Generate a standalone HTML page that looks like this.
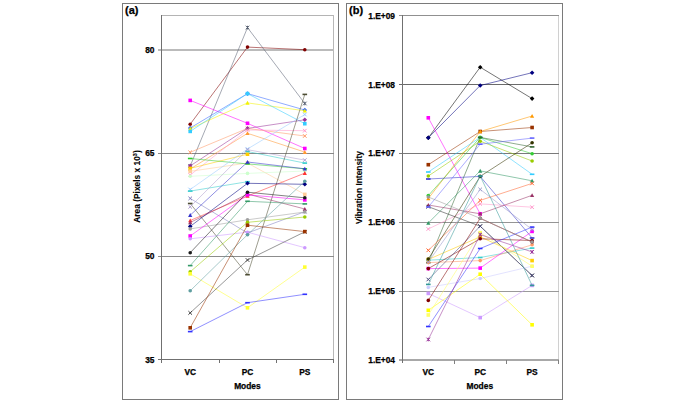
<!DOCTYPE html>
<html><head><meta charset="utf-8"><style>
html,body{margin:0;padding:0;background:#fff;width:685px;height:403px;overflow:hidden;position:relative;font-family:"Liberation Sans", sans-serif;}
</style></head><body>
<svg width="685" height="403" viewBox="0 0 685 403" style="position:absolute;left:0;top:0" shape-rendering="auto"><rect x="122" y="3" width="217" height="1" fill="#7a7a7a"/><rect x="122" y="399" width="217" height="1" fill="#7a7a7a"/><rect x="122" y="3" width="1" height="397" fill="#7a7a7a"/><rect x="338" y="3" width="1" height="397" fill="#7a7a7a"/><rect x="161" y="15" width="173" height="1" fill="#b4b4b4"/><rect x="333" y="15" width="1" height="345" fill="#b8b8b8"/><rect x="158" y="49" width="176" height="1" fill="#bbbbbb"/><rect x="158" y="50" width="176" height="1" fill="#bbbbbb"/><rect x="158" y="153" width="176" height="1" fill="#888888"/><rect x="158" y="256" width="176" height="1" fill="#8c8c8c"/><rect x="158" y="359" width="176" height="1" fill="#707070"/><rect x="161" y="15" width="1" height="348" fill="#707070"/><rect x="219" y="359" width="1" height="4" fill="#707070"/><rect x="276" y="359" width="1" height="4" fill="#707070"/><rect x="333" y="359" width="1" height="4" fill="#707070"/><rect x="346" y="3" width="217" height="1" fill="#7a7a7a"/><rect x="346" y="399" width="217" height="1" fill="#7a7a7a"/><rect x="346" y="3" width="1" height="397" fill="#7a7a7a"/><rect x="562" y="3" width="1" height="397" fill="#7a7a7a"/><rect x="558" y="15" width="1" height="346" fill="#d0d0d0"/><rect x="399" y="15" width="160" height="1" fill="#909090"/><rect x="399" y="84" width="160" height="1" fill="#6a6a6a"/><rect x="399" y="153" width="160" height="1" fill="#7a7a7a"/><rect x="399" y="222" width="160" height="1" fill="#959595"/><rect x="399" y="291" width="160" height="1" fill="#9a9a9a"/><rect x="399" y="359" width="160" height="1" fill="#a8a8a8"/><rect x="399" y="360" width="160" height="1" fill="#a8a8a8"/><rect x="402" y="15" width="1" height="348" fill="#707070"/><rect x="454" y="360" width="1" height="4" fill="#808080"/><rect x="506" y="360" width="1" height="4" fill="#808080"/><rect x="558" y="360" width="1" height="4" fill="#808080"/><polyline points="190.2,124.2 247.5,47.1 304.8,49.7" fill="none" stroke="#800000" stroke-width="0.55" opacity="1.0"/><circle cx="190.2" cy="124.2" r="1.8" fill="#800000"/><circle cx="247.5" cy="47.1" r="1.8" fill="#800000"/><circle cx="304.8" cy="49.7" r="1.8" fill="#800000"/><polyline points="190.2,166.0 247.5,27.6 304.8,103.5" fill="none" stroke="#596273" stroke-width="0.55" opacity="1.0"/><path d="M188.4 164.2L192.0 167.8M192.0 164.2L188.4 167.8M190.2 164.2L190.2 167.8" stroke="#596273" stroke-width="1" fill="none"/><path d="M245.7 25.8L249.3 29.4M249.3 25.8L245.7 29.4M247.5 25.8L247.5 29.4" stroke="#596273" stroke-width="1" fill="none"/><path d="M303.0 101.7L306.6 105.3M306.6 101.7L303.0 105.3M304.8 101.7L304.8 105.3" stroke="#596273" stroke-width="1" fill="none"/><polyline points="190.2,100.4 247.5,123.3 304.8,148.5" fill="none" stroke="#ff00ff" stroke-width="0.55" opacity="1.0"/><rect x="188.4" y="98.6" width="3.6" height="3.6" fill="#ff00ff"/><rect x="245.7" y="121.5" width="3.6" height="3.6" fill="#ff00ff"/><rect x="303.0" y="146.7" width="3.6" height="3.6" fill="#ff00ff"/><polyline points="190.2,128.0 247.5,93.6 304.8,110.0" fill="none" stroke="#3366ff" stroke-width="0.55" opacity="1.0"/><path d="M190.2 125.7L192.5 128.0L190.2 130.3L187.9 128.0Z" fill="#3366ff"/><path d="M247.5 91.3L249.8 93.6L247.5 95.9L245.2 93.6Z" fill="#3366ff"/><path d="M304.8 107.7L307.1 110.0L304.8 112.3L302.5 110.0Z" fill="#3366ff"/><polyline points="190.2,128.7 247.5,102.9 304.8,110.8" fill="none" stroke="#f2f200" stroke-width="0.55" opacity="1.0"/><path d="M190.2 126.6L192.3 130.5L188.1 130.5Z" fill="#f2f200"/><path d="M247.5 100.8L249.6 104.7L245.4 104.7Z" fill="#f2f200"/><path d="M304.8 108.7L306.9 112.6L302.7 112.6Z" fill="#f2f200"/><polyline points="190.2,131.4 247.5,93.6 304.8,123.7" fill="none" stroke="#33ccff" stroke-width="0.55" opacity="1.0"/><rect x="188.4" y="129.6" width="3.6" height="3.6" fill="#33ccff"/><rect x="245.7" y="91.8" width="3.6" height="3.6" fill="#33ccff"/><rect x="303.0" y="121.9" width="3.6" height="3.6" fill="#33ccff"/><polyline points="190.2,152.3 247.5,128.4 304.8,136.0" fill="none" stroke="#ff9966" stroke-width="0.55" opacity="1.0"/><path d="M188.4 150.5L192.0 154.1M192.0 150.5L188.4 154.1" stroke="#ff9966" stroke-width="1" fill="none"/><path d="M245.7 126.6L249.3 130.2M249.3 126.6L245.7 130.2" stroke="#ff9966" stroke-width="1" fill="none"/><path d="M303.0 134.2L306.6 137.8M306.6 134.2L303.0 137.8" stroke="#ff9966" stroke-width="1" fill="none"/><polyline points="190.2,165.9 247.5,128.4 304.8,119.8" fill="none" stroke="#993399" stroke-width="0.55" opacity="1.0"/><path d="M190.2 163.6L192.5 165.9L190.2 168.2L187.9 165.9Z" fill="#993399"/><path d="M247.5 126.1L249.8 128.4L247.5 130.7L245.2 128.4Z" fill="#993399"/><path d="M304.8 117.5L307.1 119.8L304.8 122.1L302.5 119.8Z" fill="#993399"/><polyline points="190.2,169.0 247.5,133.3 304.8,152.1" fill="none" stroke="#ff9933" stroke-width="0.55" opacity="1.0"/><path d="M190.2 166.9L192.3 170.8L188.1 170.8Z" fill="#ff9933"/><path d="M247.5 131.2L249.6 135.1L245.4 135.1Z" fill="#ff9933"/><path d="M304.8 150.0L306.9 153.9L302.7 153.9Z" fill="#ff9933"/><polyline points="190.2,175.0 247.5,130.0 304.8,130.7" fill="none" stroke="#ff99cc" stroke-width="0.55" opacity="1.0"/><path d="M188.4 173.2L192.0 176.8M192.0 173.2L188.4 176.8" stroke="#ff99cc" stroke-width="1" fill="none"/><path d="M245.7 128.2L249.3 131.8M249.3 128.2L245.7 131.8" stroke="#ff99cc" stroke-width="1" fill="none"/><path d="M303.0 128.9L306.6 132.5M306.6 128.9L303.0 132.5" stroke="#ff99cc" stroke-width="1" fill="none"/><polyline points="190.2,168.4 247.5,154.2" fill="none" stroke="#ffcc00" stroke-width="0.55" opacity="1.0"/><rect x="188.4" y="166.6" width="3.6" height="3.6" fill="#ffcc00"/><rect x="245.7" y="152.4" width="3.6" height="3.6" fill="#ffcc00"/><polyline points="190.2,171.3 247.5,163.0 304.8,194.4" fill="none" stroke="#ffcc99" stroke-width="0.55" opacity="1.0"/><rect x="188.4" y="169.5" width="3.6" height="3.6" fill="#ffcc99"/><rect x="245.7" y="161.2" width="3.6" height="3.6" fill="#ffcc99"/><rect x="303.0" y="192.6" width="3.6" height="3.6" fill="#ffcc99"/><polyline points="190.2,158.5 247.5,163.9 304.8,168.8" fill="none" stroke="#33cc33" stroke-width="0.55" opacity="1.0"/><rect x="187.9" y="157.7" width="4.6" height="1.6" fill="#33cc33"/><rect x="245.2" y="163.1" width="4.6" height="1.6" fill="#33cc33"/><rect x="302.5" y="168.0" width="4.6" height="1.6" fill="#33cc33"/><polyline points="190.2,176.3 247.5,173.4 304.8,171.0" fill="none" stroke="#ccffcc" stroke-width="0.55" opacity="1.0"/><circle cx="190.2" cy="176.3" r="1.8" fill="#ccffcc"/><circle cx="247.5" cy="173.4" r="1.8" fill="#ccffcc"/><circle cx="304.8" cy="171.0" r="1.8" fill="#ccffcc"/><polyline points="190.2,189.5 247.5,149.0 304.8,114.5" fill="none" stroke="#99ccff" stroke-width="0.55" opacity="1.0"/><path d="M188.4 187.7L192.0 191.3M192.0 187.7L188.4 191.3" stroke="#99ccff" stroke-width="1" fill="none"/><path d="M245.7 147.2L249.3 150.8M249.3 147.2L245.7 150.8" stroke="#99ccff" stroke-width="1" fill="none"/><path d="M303.0 112.7L306.6 116.3M306.6 112.7L303.0 116.3" stroke="#99ccff" stroke-width="1" fill="none"/><polyline points="190.2,191.1 247.5,181.7" fill="none" stroke="#33cccc" stroke-width="0.55" opacity="1.0"/><rect x="187.9" y="190.3" width="4.6" height="1.6" fill="#33cccc"/><rect x="245.2" y="180.9" width="4.6" height="1.6" fill="#33cccc"/><polyline points="247.5,151.5 304.8,163.1" fill="none" stroke="#33cccc" stroke-width="0.55" opacity="1.0"/><rect x="245.2" y="150.7" width="4.6" height="1.6" fill="#33cccc"/><rect x="302.5" y="162.3" width="4.6" height="1.6" fill="#33cccc"/><polyline points="190.2,198.4 247.5,233.0 304.8,211.7" fill="none" stroke="#8080c0" stroke-width="0.55" opacity="1.0"/><path d="M188.4 196.6L192.0 200.2M192.0 196.6L188.4 200.2" stroke="#8080c0" stroke-width="1" fill="none"/><path d="M245.7 231.2L249.3 234.8M249.3 231.2L245.7 234.8" stroke="#8080c0" stroke-width="1" fill="none"/><path d="M303.0 209.9L306.6 213.5M306.6 209.9L303.0 213.5" stroke="#8080c0" stroke-width="1" fill="none"/><polyline points="190.2,203.5 247.5,274.7 304.8,94.4" fill="none" stroke="#4d4d33" stroke-width="0.55" opacity="1.0"/><rect x="187.9" y="202.7" width="4.6" height="1.6" fill="#4d4d33"/><rect x="245.2" y="273.9" width="4.6" height="1.6" fill="#4d4d33"/><rect x="302.5" y="93.6" width="4.6" height="1.6" fill="#4d4d33"/><polyline points="190.2,206.8 247.5,149.7 304.8,160.1" fill="none" stroke="#b0a0d0" stroke-width="0.55" opacity="1.0"/><path d="M188.4 205.0L192.0 208.6M192.0 205.0L188.4 208.6" stroke="#b0a0d0" stroke-width="1" fill="none"/><path d="M245.7 147.9L249.3 151.5M249.3 147.9L245.7 151.5" stroke="#b0a0d0" stroke-width="1" fill="none"/><path d="M303.0 158.3L306.6 161.9M306.6 158.3L303.0 161.9" stroke="#b0a0d0" stroke-width="1" fill="none"/><polyline points="190.2,215.2 247.5,162.0 304.8,168.8" fill="none" stroke="#3333cc" stroke-width="0.55" opacity="1.0"/><path d="M190.2 213.1L192.3 217.0L188.1 217.0Z" fill="#3333cc"/><path d="M247.5 159.9L249.6 163.8L245.4 163.8Z" fill="#3333cc"/><path d="M304.8 166.7L306.9 170.6L302.7 170.6Z" fill="#3333cc"/><polyline points="190.2,220.5 247.5,196.0 304.8,173.1" fill="none" stroke="#ff3333" stroke-width="0.55" opacity="1.0"/><path d="M190.2 218.4L192.3 222.3L188.1 222.3Z" fill="#ff3333"/><path d="M247.5 193.9L249.6 197.8L245.4 197.8Z" fill="#ff3333"/><path d="M304.8 171.0L306.9 174.9L302.7 174.9Z" fill="#ff3333"/><polyline points="190.2,222.5 247.5,194.0 304.8,209.0" fill="none" stroke="#993366" stroke-width="0.55" opacity="1.0"/><path d="M190.2 220.4L192.3 224.3L188.1 224.3Z" fill="#993366"/><path d="M247.5 191.9L249.6 195.8L245.4 195.8Z" fill="#993366"/><path d="M304.8 206.9L306.9 210.8L302.7 210.8Z" fill="#993366"/><polyline points="190.2,226.4 247.5,183.3 304.8,184.3" fill="none" stroke="#000080" stroke-width="0.55" opacity="1.0"/><path d="M190.2 224.1L192.5 226.4L190.2 228.7L187.9 226.4Z" fill="#000080"/><path d="M247.5 181.0L249.8 183.3L247.5 185.6L245.2 183.3Z" fill="#000080"/><path d="M304.8 182.0L307.1 184.3L304.8 186.6L302.5 184.3Z" fill="#000080"/><polyline points="190.2,228.9 247.5,219.8 304.8,212.0" fill="none" stroke="#a0a0a0" stroke-width="0.55" opacity="1.0"/><circle cx="190.2" cy="228.9" r="1.8" fill="#a0a0a0"/><circle cx="247.5" cy="219.8" r="1.8" fill="#a0a0a0"/><circle cx="304.8" cy="212.0" r="1.8" fill="#a0a0a0"/><polyline points="190.2,236.0 247.5,194.8 304.8,199.9" fill="none" stroke="#ff00ff" stroke-width="0.55" opacity="1.0"/><rect x="188.4" y="234.2" width="3.6" height="3.6" fill="#ff00ff"/><rect x="245.7" y="193.0" width="3.6" height="3.6" fill="#ff00ff"/><rect x="303.0" y="198.1" width="3.6" height="3.6" fill="#ff00ff"/><polyline points="190.2,238.8 247.5,232.2 304.8,247.7" fill="none" stroke="#cc99ff" stroke-width="0.55" opacity="1.0"/><circle cx="190.2" cy="238.8" r="1.8" fill="#cc99ff"/><circle cx="247.5" cy="232.2" r="1.8" fill="#cc99ff"/><circle cx="304.8" cy="247.7" r="1.8" fill="#cc99ff"/><polyline points="190.2,252.7 247.5,192.2 304.8,197.8" fill="none" stroke="#1a1a1a" stroke-width="0.55" opacity="1.0"/><circle cx="190.2" cy="252.7" r="1.8" fill="#1a1a1a"/><circle cx="247.5" cy="192.2" r="1.8" fill="#1a1a1a"/><circle cx="304.8" cy="197.8" r="1.8" fill="#1a1a1a"/><polyline points="190.2,265.6 247.5,201.3 304.8,203.9" fill="none" stroke="#339966" stroke-width="0.55" opacity="1.0"/><rect x="187.9" y="264.8" width="4.6" height="1.6" fill="#339966"/><rect x="245.2" y="200.5" width="4.6" height="1.6" fill="#339966"/><rect x="302.5" y="203.1" width="4.6" height="1.6" fill="#339966"/><polyline points="190.2,271.8 247.5,222.3 304.8,217.0" fill="none" stroke="#99cc00" stroke-width="0.55" opacity="1.0"/><circle cx="190.2" cy="271.8" r="1.8" fill="#99cc00"/><circle cx="247.5" cy="222.3" r="1.8" fill="#99cc00"/><circle cx="304.8" cy="217.0" r="1.8" fill="#99cc00"/><polyline points="190.2,273.8 247.5,307.8 304.8,267.1" fill="none" stroke="#ffff33" stroke-width="0.55" opacity="1.0"/><rect x="188.4" y="272.0" width="3.6" height="3.6" fill="#ffff33"/><rect x="245.7" y="306.0" width="3.6" height="3.6" fill="#ffff33"/><rect x="303.0" y="265.3" width="3.6" height="3.6" fill="#ffff33"/><polyline points="190.2,290.8 247.5,234.7 304.8,181.3" fill="none" stroke="#5f9ea0" stroke-width="0.55" opacity="1.0"/><circle cx="190.2" cy="290.8" r="1.8" fill="#5f9ea0"/><circle cx="247.5" cy="234.7" r="1.8" fill="#5f9ea0"/><circle cx="304.8" cy="181.3" r="1.8" fill="#5f9ea0"/><polyline points="190.2,312.9 247.5,260.0 304.8,231.8" fill="none" stroke="#404040" stroke-width="0.55" opacity="1.0"/><path d="M188.4 311.1L192.0 314.7M192.0 311.1L188.4 314.7" stroke="#404040" stroke-width="1" fill="none"/><path d="M245.7 258.2L249.3 261.8M249.3 258.2L245.7 261.8" stroke="#404040" stroke-width="1" fill="none"/><path d="M303.0 230.0L306.6 233.6M306.6 230.0L303.0 233.6" stroke="#404040" stroke-width="1" fill="none"/><polyline points="190.2,327.8 247.5,225.2 304.8,231.6" fill="none" stroke="#993300" stroke-width="0.55" opacity="1.0"/><rect x="188.4" y="326.0" width="3.6" height="3.6" fill="#993300"/><rect x="245.7" y="223.4" width="3.6" height="3.6" fill="#993300"/><rect x="303.0" y="229.8" width="3.6" height="3.6" fill="#993300"/><polyline points="190.2,331.6 247.5,302.7 304.8,294.3" fill="none" stroke="#3333ff" stroke-width="0.55" opacity="1.0"/><rect x="187.9" y="330.8" width="4.6" height="1.6" fill="#3333ff"/><rect x="245.2" y="301.9" width="4.6" height="1.6" fill="#3333ff"/><rect x="302.5" y="293.5" width="4.6" height="1.6" fill="#3333ff"/><polyline points="428.3,137.8 480.2,67.2 532.1,98.6" fill="none" stroke="#000000" stroke-width="0.55" opacity="1.0"/><path d="M428.3 135.5L430.6 137.8L428.3 140.1L426.0 137.8Z" fill="#000000"/><path d="M480.2 64.9L482.5 67.2L480.2 69.5L477.9 67.2Z" fill="#000000"/><path d="M532.1 96.3L534.4 98.6L532.1 100.9L529.8 98.6Z" fill="#000000"/><polyline points="428.3,137.8 480.2,85.5 532.1,72.7" fill="none" stroke="#000080" stroke-width="0.55" opacity="1.0"/><path d="M428.3 135.5L430.6 137.8L428.3 140.1L426.0 137.8Z" fill="#000080"/><path d="M480.2 83.2L482.5 85.5L480.2 87.8L477.9 85.5Z" fill="#000080"/><path d="M532.1 70.4L534.4 72.7L532.1 75.0L529.8 72.7Z" fill="#000080"/><polyline points="428.3,117.8 480.2,213.8" fill="none" stroke="#ff00ff" stroke-width="0.55" opacity="1.0"/><rect x="426.5" y="116.0" width="3.6" height="3.6" fill="#ff00ff"/><rect x="478.4" y="212.0" width="3.6" height="3.6" fill="#ff00ff"/><polyline points="428.3,164.7 480.2,131.5 532.1,127.5" fill="none" stroke="#993300" stroke-width="0.55" opacity="1.0"/><rect x="426.5" y="162.9" width="3.6" height="3.6" fill="#993300"/><rect x="478.4" y="129.7" width="3.6" height="3.6" fill="#993300"/><rect x="530.3" y="125.7" width="3.6" height="3.6" fill="#993300"/><polyline points="428.3,198.5 480.2,131.5 532.1,116.0" fill="none" stroke="#ff9900" stroke-width="0.55" opacity="1.0"/><path d="M428.3 196.4L430.4 200.3L426.2 200.3Z" fill="#ff9900"/><path d="M480.2 129.4L482.3 133.3L478.1 133.3Z" fill="#ff9900"/><path d="M532.1 113.9L534.2 117.8L530.0 117.8Z" fill="#ff9900"/><polyline points="428.3,172.0 480.2,137.4 532.1,174.3" fill="none" stroke="#33ccff" stroke-width="0.55" opacity="1.0"/><rect x="426.0" y="171.2" width="4.6" height="1.6" fill="#33ccff"/><rect x="477.9" y="136.6" width="4.6" height="1.6" fill="#33ccff"/><rect x="529.8" y="173.5" width="4.6" height="1.6" fill="#33ccff"/><polyline points="428.3,176.0 480.2,141.2 532.1,161.0" fill="none" stroke="#99cc00" stroke-width="0.55" opacity="1.0"/><circle cx="428.3" cy="176.0" r="1.8" fill="#99cc00"/><circle cx="480.2" cy="141.2" r="1.8" fill="#99cc00"/><circle cx="532.1" cy="161.0" r="1.8" fill="#99cc00"/><polyline points="428.3,195.6 480.2,137.4 532.1,153.7" fill="none" stroke="#33cc33" stroke-width="0.55" opacity="1.0"/><circle cx="428.3" cy="195.6" r="1.8" fill="#33cc33"/><circle cx="480.2" cy="137.4" r="1.8" fill="#33cc33"/><circle cx="532.1" cy="153.7" r="1.8" fill="#33cc33"/><polyline points="428.3,262.6 480.2,137.4 532.1,146.9" fill="none" stroke="#336633" stroke-width="0.55" opacity="1.0"/><rect x="426.0" y="261.8" width="4.6" height="1.6" fill="#336633"/><rect x="477.9" y="136.6" width="4.6" height="1.6" fill="#336633"/><rect x="529.8" y="146.1" width="4.6" height="1.6" fill="#336633"/><polyline points="428.3,179.0 480.2,176.4 532.1,238.0" fill="none" stroke="#3333cc" stroke-width="0.55" opacity="1.0"/><rect x="426.0" y="178.2" width="4.6" height="1.6" fill="#3333cc"/><rect x="477.9" y="175.6" width="4.6" height="1.6" fill="#3333cc"/><rect x="529.8" y="237.2" width="4.6" height="1.6" fill="#3333cc"/><polyline points="428.3,223.0 480.2,170.9 532.1,180.8" fill="none" stroke="#339966" stroke-width="0.55" opacity="1.0"/><path d="M428.3 220.9L430.4 224.8L426.2 224.8Z" fill="#339966"/><path d="M480.2 168.8L482.3 172.7L478.1 172.7Z" fill="#339966"/><path d="M532.1 178.7L534.2 182.6L530.0 182.6Z" fill="#339966"/><polyline points="428.3,229.0 480.2,203.9 532.1,207.2" fill="none" stroke="#ff99cc" stroke-width="0.55" opacity="1.0"/><path d="M426.5 227.2L430.1 230.8M430.1 227.2L426.5 230.8" stroke="#ff99cc" stroke-width="1" fill="none"/><path d="M478.4 202.1L482.0 205.7M482.0 202.1L478.4 205.7" stroke="#ff99cc" stroke-width="1" fill="none"/><path d="M530.3 205.4L533.9 209.0M533.9 205.4L530.3 209.0" stroke="#ff99cc" stroke-width="1" fill="none"/><polyline points="428.3,250.3 480.2,200.4 532.1,183.4" fill="none" stroke="#ff6633" stroke-width="0.55" opacity="1.0"/><path d="M426.5 248.5L430.1 252.1M430.1 248.5L426.5 252.1" stroke="#ff6633" stroke-width="1" fill="none"/><path d="M478.4 198.6L482.0 202.2M482.0 198.6L478.4 202.2" stroke="#ff6633" stroke-width="1" fill="none"/><path d="M530.3 181.6L533.9 185.2M533.9 181.6L530.3 185.2" stroke="#ff6633" stroke-width="1" fill="none"/><polyline points="428.3,205.0 480.2,213.8 532.1,195.3" fill="none" stroke="#993366" stroke-width="0.55" opacity="1.0"/><path d="M428.3 202.9L430.4 206.8L426.2 206.8Z" fill="#993366"/><path d="M480.2 211.7L482.3 215.6L478.1 215.6Z" fill="#993366"/><path d="M532.1 193.2L534.2 197.1L530.0 197.1Z" fill="#993366"/><polyline points="428.3,260.2 480.2,257.5 532.1,248.1" fill="none" stroke="#33cccc" stroke-width="0.55" opacity="1.0"/><rect x="426.0" y="259.4" width="4.6" height="1.6" fill="#33cccc"/><rect x="477.9" y="256.7" width="4.6" height="1.6" fill="#33cccc"/><rect x="529.8" y="247.3" width="4.6" height="1.6" fill="#33cccc"/><polyline points="428.3,259.5 480.2,236.8 532.1,260.6" fill="none" stroke="#ffcc00" stroke-width="0.55" opacity="1.0"/><rect x="426.5" y="257.7" width="3.6" height="3.6" fill="#ffcc00"/><rect x="478.4" y="235.0" width="3.6" height="3.6" fill="#ffcc00"/><rect x="530.3" y="258.8" width="3.6" height="3.6" fill="#ffcc00"/><polyline points="428.3,262.6 480.2,260.6 532.1,244.8" fill="none" stroke="#ff9966" stroke-width="0.55" opacity="1.0"/><circle cx="428.3" cy="262.6" r="1.8" fill="#ff9966"/><circle cx="480.2" cy="260.6" r="1.8" fill="#ff9966"/><circle cx="532.1" cy="244.8" r="1.8" fill="#ff9966"/><polyline points="428.3,268.6 480.2,268.1 532.1,231.4" fill="none" stroke="#ff00ff" stroke-width="0.55" opacity="1.0"/><rect x="426.5" y="266.8" width="3.6" height="3.6" fill="#ff00ff"/><rect x="478.4" y="266.3" width="3.6" height="3.6" fill="#ff00ff"/><rect x="530.3" y="229.6" width="3.6" height="3.6" fill="#ff00ff"/><polyline points="428.3,268.6 480.2,238.8 532.1,240.5" fill="none" stroke="#800000" stroke-width="0.55" opacity="1.0"/><circle cx="428.3" cy="268.6" r="1.8" fill="#800000"/><circle cx="480.2" cy="238.8" r="1.8" fill="#800000"/><circle cx="532.1" cy="240.5" r="1.8" fill="#800000"/><polyline points="428.3,206.7 480.2,226.2 532.1,275.5" fill="none" stroke="#333333" stroke-width="0.55" opacity="1.0"/><path d="M426.5 204.9L430.1 208.5M430.1 204.9L426.5 208.5" stroke="#333333" stroke-width="1" fill="none"/><path d="M478.4 224.4L482.0 228.0M482.0 224.4L478.4 228.0" stroke="#333333" stroke-width="1" fill="none"/><path d="M530.3 273.7L533.9 277.3M533.9 273.7L530.3 277.3" stroke="#333333" stroke-width="1" fill="none"/><polyline points="428.3,259.0 480.2,176.4 532.1,142.8" fill="none" stroke="#333300" stroke-width="0.55" opacity="1.0"/><circle cx="428.3" cy="259.0" r="1.8" fill="#333300"/><circle cx="480.2" cy="176.4" r="1.8" fill="#333300"/><circle cx="532.1" cy="142.8" r="1.8" fill="#333300"/><polyline points="428.3,279.5 480.2,226.2 532.1,275.5" fill="none" stroke="#4d4d80" stroke-width="0.55" opacity="1.0"/><path d="M426.5 277.7L430.1 281.3M430.1 277.7L426.5 281.3" stroke="#4d4d80" stroke-width="1" fill="none"/><path d="M478.4 224.4L482.0 228.0M482.0 224.4L478.4 228.0" stroke="#4d4d80" stroke-width="1" fill="none"/><path d="M530.3 273.7L533.9 277.3M533.9 273.7L530.3 277.3" stroke="#4d4d80" stroke-width="1" fill="none"/><polyline points="428.3,287.4 480.2,278.5 532.1,266.2" fill="none" stroke="#ccccff" stroke-width="0.55" opacity="1.0"/><circle cx="428.3" cy="287.4" r="1.8" fill="#ccccff"/><circle cx="480.2" cy="278.5" r="1.8" fill="#ccccff"/><circle cx="532.1" cy="266.2" r="1.8" fill="#ccccff"/><polyline points="428.3,293.4 480.2,317.6 532.1,285.4" fill="none" stroke="#cc99ff" stroke-width="0.55" opacity="1.0"/><rect x="426.5" y="291.6" width="3.6" height="3.6" fill="#cc99ff"/><rect x="478.4" y="315.8" width="3.6" height="3.6" fill="#cc99ff"/><rect x="530.3" y="283.6" width="3.6" height="3.6" fill="#cc99ff"/><polyline points="428.3,300.4 480.2,218.3 532.1,242.0" fill="none" stroke="#800000" stroke-width="0.55" opacity="1.0"/><circle cx="428.3" cy="300.4" r="1.8" fill="#800000"/><circle cx="480.2" cy="218.3" r="1.8" fill="#800000"/><circle cx="532.1" cy="242.0" r="1.8" fill="#800000"/><polyline points="428.3,310.3 480.2,274.2 532.1,324.8" fill="none" stroke="#ffff00" stroke-width="0.55" opacity="1.0"/><rect x="426.5" y="308.5" width="3.6" height="3.6" fill="#ffff00"/><rect x="478.4" y="272.4" width="3.6" height="3.6" fill="#ffff00"/><rect x="530.3" y="323.0" width="3.6" height="3.6" fill="#ffff00"/><polyline points="428.3,315.0 480.2,232.7 532.1,266.2" fill="none" stroke="#ffff66" stroke-width="0.55" opacity="1.0"/><rect x="426.5" y="313.2" width="3.6" height="3.6" fill="#ffff66"/><rect x="478.4" y="230.9" width="3.6" height="3.6" fill="#ffff66"/><rect x="530.3" y="264.4" width="3.6" height="3.6" fill="#ffff66"/><polyline points="428.3,326.5 480.2,248.5 532.1,227.1" fill="none" stroke="#3333ff" stroke-width="0.55" opacity="1.0"/><rect x="426.0" y="325.7" width="4.6" height="1.6" fill="#3333ff"/><rect x="477.9" y="247.7" width="4.6" height="1.6" fill="#3333ff"/><rect x="529.8" y="226.3" width="4.6" height="1.6" fill="#3333ff"/><polyline points="428.3,339.5 480.2,234.6 532.1,251.9" fill="none" stroke="#993399" stroke-width="0.55" opacity="1.0"/><path d="M426.5 337.7L430.1 341.3M430.1 337.7L426.5 341.3M428.3 337.7L428.3 341.3" stroke="#993399" stroke-width="1" fill="none"/><path d="M478.4 232.8L482.0 236.4M482.0 232.8L478.4 236.4M480.2 232.8L480.2 236.4" stroke="#993399" stroke-width="1" fill="none"/><path d="M530.3 250.1L533.9 253.7M533.9 250.1L530.3 253.7M532.1 250.1L532.1 253.7" stroke="#993399" stroke-width="1" fill="none"/><polyline points="428.3,207.0 480.2,144.2 532.1,138.1" fill="none" stroke="#6666ff" stroke-width="0.55" opacity="1.0"/><rect x="426.0" y="206.2" width="4.6" height="1.6" fill="#6666ff"/><rect x="477.9" y="143.4" width="4.6" height="1.6" fill="#6666ff"/><rect x="529.8" y="137.3" width="4.6" height="1.6" fill="#6666ff"/><polyline points="428.3,262.0 480.2,189.4 532.1,229.5" fill="none" stroke="#9999cc" stroke-width="0.55" opacity="1.0"/><path d="M426.5 260.2L430.1 263.8M430.1 260.2L426.5 263.8" stroke="#9999cc" stroke-width="1" fill="none"/><path d="M478.4 187.6L482.0 191.2M482.0 187.6L478.4 191.2" stroke="#9999cc" stroke-width="1" fill="none"/><path d="M530.3 227.7L533.9 231.3M533.9 227.7L530.3 231.3" stroke="#9999cc" stroke-width="1" fill="none"/><polyline points="428.3,197.0 480.2,218.3 532.1,242.0" fill="none" stroke="#999999" stroke-width="0.55" opacity="1.0"/><circle cx="428.3" cy="197.0" r="1.8" fill="#999999"/><circle cx="480.2" cy="218.3" r="1.8" fill="#999999"/><circle cx="532.1" cy="242.0" r="1.8" fill="#999999"/><polyline points="428.3,284.4 480.2,176.0 532.1,285.4" fill="none" stroke="#339999" stroke-width="0.55" opacity="1.0"/><rect x="426.0" y="283.6" width="4.6" height="1.6" fill="#339999"/><rect x="477.9" y="175.2" width="4.6" height="1.6" fill="#339999"/><rect x="529.8" y="284.6" width="4.6" height="1.6" fill="#339999"/><text x="154.5" y="53" font-family='"Liberation Sans", sans-serif' font-weight="bold" font-size="8.4" text-anchor="end" fill="#000" stroke="#000" stroke-width="0.25" >80</text><text x="154.5" y="156.2" font-family='"Liberation Sans", sans-serif' font-weight="bold" font-size="8.4" text-anchor="end" fill="#000" stroke="#000" stroke-width="0.25" >65</text><text x="154.5" y="259.3" font-family='"Liberation Sans", sans-serif' font-weight="bold" font-size="8.4" text-anchor="end" fill="#000" stroke="#000" stroke-width="0.25" >50</text><text x="154.5" y="362.5" font-family='"Liberation Sans", sans-serif' font-weight="bold" font-size="8.4" text-anchor="end" fill="#000" stroke="#000" stroke-width="0.25" >35</text><text x="190.2" y="375" font-family='"Liberation Sans", sans-serif' font-weight="bold" font-size="8.4" text-anchor="middle" fill="#000" stroke="#000" stroke-width="0.25" >VC</text><text x="247.5" y="375" font-family='"Liberation Sans", sans-serif' font-weight="bold" font-size="8.4" text-anchor="middle" fill="#000" stroke="#000" stroke-width="0.25" >PC</text><text x="304.8" y="375" font-family='"Liberation Sans", sans-serif' font-weight="bold" font-size="8.4" text-anchor="middle" fill="#000" stroke="#000" stroke-width="0.25" >PS</text><text x="247.4" y="389.4" font-family='"Liberation Sans", sans-serif' font-weight="bold" font-size="8.4" text-anchor="middle" fill="#000" stroke="#000" stroke-width="0.25" >Modes</text><text x="428.3" y="375.3" font-family='"Liberation Sans", sans-serif' font-weight="bold" font-size="8.4" text-anchor="middle" fill="#000" stroke="#000" stroke-width="0.25" >VC</text><text x="480.2" y="375.3" font-family='"Liberation Sans", sans-serif' font-weight="bold" font-size="8.4" text-anchor="middle" fill="#000" stroke="#000" stroke-width="0.25" >PC</text><text x="532.1" y="375.3" font-family='"Liberation Sans", sans-serif' font-weight="bold" font-size="8.4" text-anchor="middle" fill="#000" stroke="#000" stroke-width="0.25" >PS</text><text x="479.8" y="389.4" font-family='"Liberation Sans", sans-serif' font-weight="bold" font-size="8.4" text-anchor="middle" fill="#000" stroke="#000" stroke-width="0.25" >Modes</text><text x="395" y="18.5" font-family='"Liberation Sans", sans-serif' font-weight="bold" font-size="8.4" text-anchor="end" fill="#000" stroke="#000" stroke-width="0.25" >1.E+09</text><text x="395" y="87.5" font-family='"Liberation Sans", sans-serif' font-weight="bold" font-size="8.4" text-anchor="end" fill="#000" stroke="#000" stroke-width="0.25" >1.E+08</text><text x="395" y="156.4" font-family='"Liberation Sans", sans-serif' font-weight="bold" font-size="8.4" text-anchor="end" fill="#000" stroke="#000" stroke-width="0.25" >1.E+07</text><text x="395" y="225.4" font-family='"Liberation Sans", sans-serif' font-weight="bold" font-size="8.4" text-anchor="end" fill="#000" stroke="#000" stroke-width="0.25" >1.E+06</text><text x="395" y="294.3" font-family='"Liberation Sans", sans-serif' font-weight="bold" font-size="8.4" text-anchor="end" fill="#000" stroke="#000" stroke-width="0.25" >1.E+05</text><text x="395" y="363.3" font-family='"Liberation Sans", sans-serif' font-weight="bold" font-size="8.4" text-anchor="end" fill="#000" stroke="#000" stroke-width="0.25" >1.E+04</text><text x="125" y="13.6" font-family='"Liberation Sans", sans-serif' font-weight="bold" font-size="11" text-anchor="start" fill="#000" stroke="#000" stroke-width="0.25" >(a)</text><text x="349" y="13.6" font-family='"Liberation Sans", sans-serif' font-weight="bold" font-size="11" text-anchor="start" fill="#000" stroke="#000" stroke-width="0.25" >(b)</text><text transform="translate(139.5,186.5) rotate(-90)" font-family='"Liberation Sans", sans-serif' font-weight="bold" font-size="8.4" text-anchor="middle" fill="#000" stroke="#000" stroke-width="0.12">Area (Pixels x 10<tspan font-size="5.5" dy="-3">3</tspan><tspan dy="3">)</tspan></text><text transform="translate(362,187.6) rotate(-90)" font-family='"Liberation Sans", sans-serif' font-weight="bold" font-size="8.4" text-anchor="middle" fill="#000" stroke="#000" stroke-width="0.12">Vibration Intensity</text></svg>
</body></html>
